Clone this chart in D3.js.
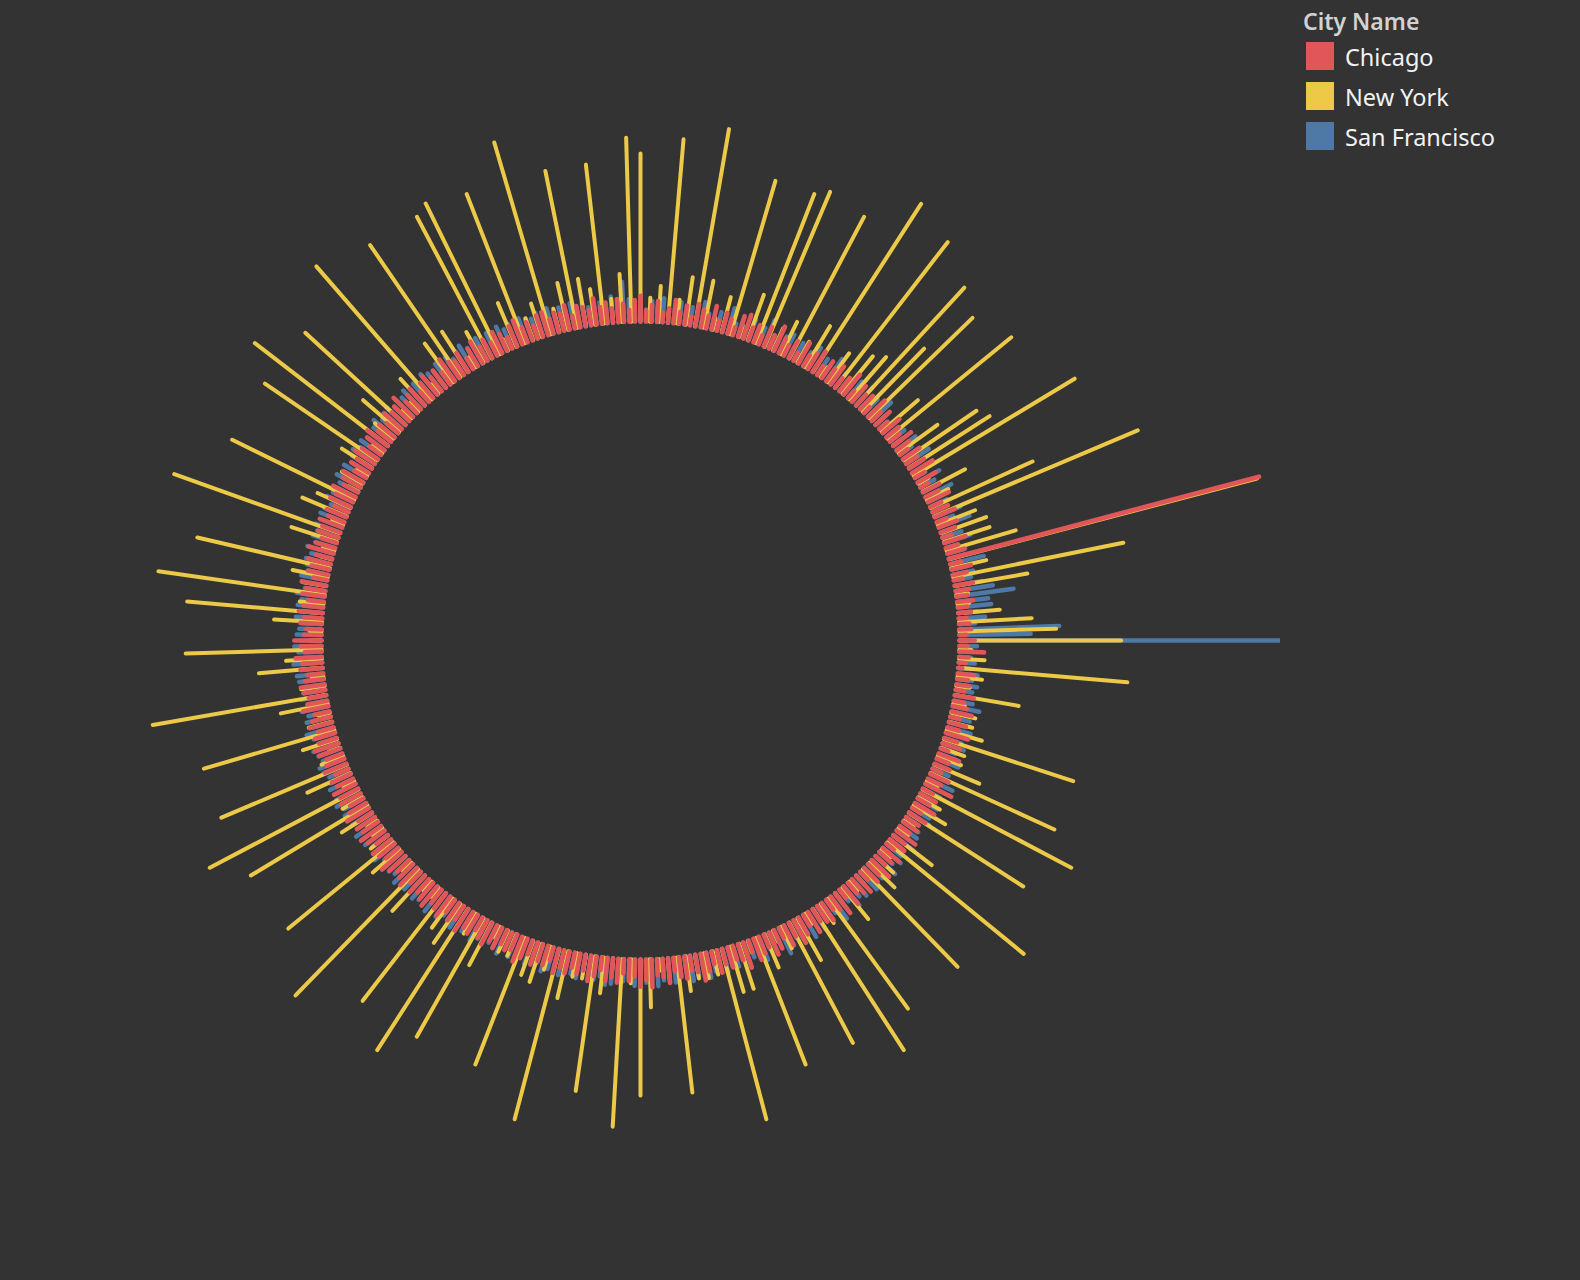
<!DOCTYPE html>
<html><head><meta charset="utf-8">
<script src="https://cdn.jsdelivr.net/npm/d3@7"></script>
<style>html,body{margin:0;background:#333333;} svg{display:block}</style>
</head><body>
<svg id="chart" width="1580" height="1280"></svg>
<script>
// Legend categories
const cities = ["Chicago", "New York", "San Francisco"];
const cityColors = ["#E15759", "#EDC948", "#4E79A7"];
const legendTitle = "City Name";

// New York: 220 evenly spaced readings around the circle
const newYork = [
  21, 3, 4.5, 23, 3, 6, 25, 6, 1.5, 4.5, 20, 1.5, 6, 20, 21, 3, 4.5, 20, 3, 6,
  25, 1.5, 4.5, 23, 6, 7, 20, 11, 18, 1.5, 6, 20, 1.5, 6, 11, 12, 23.5, 1.5, 6, 3,
  14, 27.6, 5, 6, 6, 9, 39.8, 4.5, 21.7, 9.2, 1.5, 1.5, 5.2, 9.1, 12.1, 20.2, 1.5, 3.2, 21.2, 3.1,
  1.7, 8.1, 1.5, 3.1, 3, 4.6, 17, 3.1, 3.1, 6.1, 17, 1.5, 21, 3.1, 4.6, 17, 1.5, 1.5, 6.1, 22,
  1.5, 3, 4.4, 17, 1.5, 1.5, 5.1, 1.5, 17, 2.9, 21, 1.5, 6, 17, 3, 1.5, 4.5, 17, 1.5, 5.9,
  5.9, 22, 3, 3.2, 3, 4.4, 17, 3, 1.5, 6, 17, 3, 21, 1.5, 4.5, 17, 3, 3, 6, 22,
  3, 5, 4.5, 17, 2.9, 2.9, 1.5, 6, 17, 2.9, 21, 5.9, 4.5, 17, 1.5, 1.5, 6, 22, 1.5, 1.5,
  4.4, 17, 2.7, 1.5, 1.5, 4.5, 17, 2.9, 21, 1.5, 5.9, 17, 2.9, 1.5, 4.5, 17, 3, 1.5, 6, 22,
  3, 1.5, 8, 4.5, 17, 1.5, 1.5, 6, 17, 3, 21, 3, 4.5, 17, 1.5, 1.5, 6, 22, 1.5, 6,
  4.5, 17, 1.5, 3, 1.5, 4.5, 17, 1.5, 21, 3, 6, 17, 1.5, 1.5, 4.5, 22, 1.5, 1.5, 6, 20,
  6, 1.5, 4.4, 20, 21, 1.5, 5.9, 20, 2.9, 4.4, 25, 3, 6, 20, 6, 4.5, 20, 3, 6, 23
];

// Chicago: 364 daily readings
const chicago = [
  3.2, 1.4, 2.1, 2.6, 1.2, 1.8, 2.9, 1.5, 2.4, 1.1, 2.8, 2.2, 1.6, 3.0,
  1.3, 2.5, 1.9, 1.0, 2.7, 3.1, 1.7, 2.3, 1.2, 2.6, 1.8, 3.3, 2.0, 1.4,
  2.4, 1.1, 2.9, 1.6, 2.2, 3.0, 1.3, 2.5, 1.9, 2.8, 1.5, 2.1, 3.2, 1.2,
  2.6, 1.8, 2.3, 1.0, 2.9, 1.6, 2.4, 1.3, 2.7, 2.0, 1.5, 2.8, 1.9, 1.2,
  2.5, 1.7, 2.2, 3.0, 1.4, 2.6, 1.1, 2.3, 1.8, 2.9, 1.5, 2.1, 2.7, 1.3,
  2.4, 1.9, 1.2, 2.8, 1.6, 2.2, 40.1, 1.4, 2.5, 1.8, 1.1, 2.3, 1.7, 1.4,
  2.0, 1.2, 1.6, 1.0, 1.3, 1.5, 0.9, 1.9, 1.0, 3.1, 1.2, 0.9, 0.5, 2.1,
  1.4, 1.6, 1.1, 2.4, 1.3, 1.8, 2.6, 1.2, 2.2, 1.5, 2.9, 1.7, 2.3, 1.0,
  2.7, 1.6, 2.0, 1.2, 2.5, 1.8, 3.6, 1.4, 2.2, 1.7, 2.8, 1.3, 2.4, 1.9,
  2.1, 1.5, 2.9, 1.8, 2.3, 1.2, 2.6, 2.0, 1.6, 3.0, 1.9, 2.4, 1.4, 2.7,
  2.2, 1.7, 2.8, 1.3, 3.1, 2.0, 1.5, 2.6, 2.3, 1.8, 2.9, 1.6, 2.4, 3.2,
  1.9, 2.7, 1.4, 2.5, 3.0, 1.7, 2.2, 2.8, 1.5, 3.3, 2.1, 1.8, 2.6, 2.0,
  2.9, 1.6, 2.4, 3.4, 2.2, 1.9, 2.8, 2.5, 1.7, 3.1, 2.3, 2.0, 3.5, 2.6,
  3.4, 2.1, 2.7, 1.8, 3.0, 2.4, 2.9, 1.6, 2.5, 3.2, 2.0, 2.6, 1.9, 2.8,
  2.3, 3.1, 1.7, 2.5, 2.2, 2.9, 1.8, 2.6, 3.3, 2.1, 2.4, 1.9, 2.8, 2.2,
  3.0, 2.5, 1.8, 2.7, 2.3, 3.2, 2.0, 2.6, 1.9, 2.9, 2.4, 2.1, 3.1, 2.6,
  2.2, 2.8, 1.9, 3.0, 2.4, 2.1, 2.7, 3.3, 2.0, 2.5, 2.9, 1.8, 2.6, 3.1,
  2.3, 2.7, 2.0, 3.2, 2.4, 1.9, 2.8, 2.5, 3.0, 2.2, 2.6, 1.8, 2.9, 2.4,
  2.1, 2.8, 3.1, 2.3, 2.6, 2.0, 2.9, 2.4, 1.9, 3.2, 2.5, 2.2, 2.7, 3.0,
  2.4, 2.0, 2.8, 2.5, 3.3, 2.1, 2.6, 3.4, 2.2, 1.9, 2.7, 2.3, 3.0, 2.5,
  2.0, 2.8, 2.4, 3.1, 1.8, 2.6, 2.3, 2.9, 2.1, 3.2, 2.5, 2.0, 2.7, 2.4,
  3.0, 2.2, 2.6, 1.9, 2.8, 2.4, 3.1, 2.0, 2.5, 2.9, 1.7, 2.6, 2.2, 3.0,
  2.4, 1.8, 2.7, 3.2, 2.1, 2.5, 1.9, 2.9, 2.3, 2.6, 3.4, 2.0, 2.4, 2.8,
  1.7, 2.5, 3.0, 2.2, 2.7, 1.9, 3.3, 2.4, 2.1, 2.8, 1.6, 2.5, 3.1, 2.0,
  2.6, 1.8, 2.9, 2.3, 1.5, 2.7, 3.2, 2.0, 2.4, 1.7, 2.8, 3.0, 1.9, 2.5,
  2.2, 3.1, 1.6, 2.7, 2.4, 1.9, 3.3, 2.1, 2.6, 1.8, 2.9, 2.3, 1.5, 2.7
];

// San Francisco: 364 daily readings
const sanFrancisco = [
  2.2, 1.5, 2.6, 1.8, 3.0, 1.4, 2.0, 2.7, 1.6, 2.3, 1.5, 3.2, 1.9, 1.4,
  2.4, 1.7, 3.3, 1.5, 2.1, 1.6, 2.8, 1.4, 2.2, 3.5, 1.8, 1.5, 2.3, 2.9,
  1.6, 2.5, 1.3, 2.0, 3.1, 1.5, 2.4, 1.9, 3.4, 1.4, 2.2, 1.8, 1.4, 2.7,
  2.0, 3.0, 1.5, 2.4, 1.7, 3.3, 2.1, 1.4, 2.7, 1.9, 2.3, 1.3, 2.9, 1.8,
  2.5, 3.4, 1.6, 2.2, 1.5, 3.1, 2.0, 2.4, 3.6, 1.7, 2.3, 1.5, 3.5, 2.2,
  4.1, 1.9, 2.5, 3.4, 1.6, 2.3, 2.1, 4.3, 1.8, 2.6, 2.2, 3.5, 4.7, 7.2,
  3.9, 4.2, 2.4, 3.3, 2.0, 12.5, 8.9, 100, 2.2, 1.8, 1.5, 2.0, 1.6, 2.5,
  1.9, 2.6, 2.1, 1.7, 2.4, 3.4, 1.8, 2.5, 2.2, 3.0, 1.6, 2.3, 2.8, 2.0,
  2.4, 2.9, 1.7, 2.2, 2.6, 3.4, 1.9, 2.4, 1.6, 2.8, 2.1, 2.5, 3.0, 1.8,
  2.3, 2.6, 2.0, 3.2, 1.7, 2.4, 2.9, 2.2, 3.3, 1.9, 2.5, 2.1, 3.0, 1.6,
  2.7, 2.2, 3.1, 1.8, 2.5, 3.4, 2.0, 2.6, 2.3, 3.0, 1.7, 3.2, 2.4, 2.6,
  2.1, 2.8, 3.5, 2.2, 2.6, 1.9, 3.1, 2.5, 2.2, 3.3, 1.8, 2.7, 2.4, 3.0,
  2.0, 2.6, 3.2, 2.3, 2.8, 3.2, 2.1, 2.5, 3.1, 2.2, 2.7, 3.4, 2.4, 2.9,
  2.6, 3.3, 2.3, 2.8, 2.5, 3.2, 3.4, 2.4, 2.9, 2.6, 2.2, 3.1, 2.7, 2.3,
  3.2, 2.5, 2.8, 3.3, 2.4, 2.7, 3.1, 2.3, 2.6, 3.0, 2.2, 3.2, 2.6, 2.4,
  3.0, 2.6, 3.3, 2.3, 2.8, 2.5, 3.2, 2.7, 2.4, 3.1, 2.6, 3.4, 2.5, 2.8,
  3.2, 2.4, 3.0, 2.6, 3.3, 2.5, 2.8, 3.1, 2.3, 3.2, 2.7, 2.4, 3.0, 2.9,
  3.3, 2.6, 3.0, 2.4, 3.1, 2.7, 3.4, 3.1, 2.5, 3.2, 2.8, 2.6, 3.1, 3.3,
  2.6, 2.9, 3.3, 2.5, 2.8, 3.5, 2.6, 3.1, 2.7, 3.4, 2.5, 3.2, 2.8, 2.6,
  3.1, 3.3, 2.7, 3.6, 2.4, 2.9, 3.4, 2.6, 3.1, 2.8, 2.5, 3.3, 2.7, 3.2,
  2.8, 3.5, 2.6, 3.1, 3.3, 2.5, 2.9, 3.2, 2.7, 3.4, 2.6, 3.1, 2.8, 3.3,
  2.6, 3.2, 3.0, 2.4, 3.3, 2.8, 3.1, 2.6, 3.4, 2.7, 3.2, 2.5, 2.9, 3.3,
  2.7, 3.1, 2.5, 3.2, 2.8, 3.4, 2.6, 3.0, 3.3, 2.4, 3.1, 2.7, 3.2, 2.6,
  3.0, 2.5, 3.3, 2.8, 2.6, 3.2, 2.7, 3.1, 2.4, 3.0, 3.4, 2.6, 2.8, 3.2,
  2.5, 3.1, 2.7, 3.3, 2.6, 3.0, 2.3, 3.2, 2.8, 2.6, 3.1, 2.4, 3.3, 2.7,
  3.0, 2.5, 3.2, 2.6, 2.9, 2.3, 3.1, 2.7, 2.4, 3.3, 2.6, 5.0, 2.8, 2.5
];

const W = 1580, H = 1280;
const svg = d3.select("#chart");
svg.append("rect").attr("width", W).attr("height", H).attr("fill", "#333333");

const cx = 640.5, cy = 640.5;
const radius = d3.scaleLinear().domain([0, 40]).range([319, 639]);
const angleNY = d3.scaleLinear().domain([0, newYork.length]).range([0, 2 * Math.PI]);
const angleDaily = d3.scaleLinear().domain([0, chicago.length]).range([0, 2 * Math.PI]);
const radial = d3.lineRadial();

svg.append("defs").append("clipPath").attr("id", "pane")
  .append("rect").attr("x", 0).attr("y", 0).attr("width", 1280).attr("height", 1280);

const plot = svg.append("g").attr("clip-path", "url(#pane)")
  .append("g").attr("transform", `translate(${cx},${cy})`);

function drawSeries(values, angle, color, width) {
  plot.append("g").selectAll("path").data(values).join("path")
    .attr("d", (v, i) => radial([[angle(i), radius(0)], [angle(i), radius(v)]]))
    .attr("fill", "none")
    .attr("stroke", color)
    .attr("stroke-width", width)
    .attr("stroke-linecap", "round");
}

drawSeries(sanFrancisco, angleDaily, cityColors[2], 4.5);
drawSeries(newYork, angleNY, cityColors[1], 4);
drawSeries(chicago, angleDaily, cityColors[0], 4.6);

// Legend
const legend = svg.append("g").attr("font-family", "'Noto Sans', 'Open Sans', sans-serif");
legend.append("text").attr("x", 1303).attr("y", 30)
  .attr("font-size", 23).attr("font-weight", 600).attr("fill", "#d2d2d2")
  .text(legendTitle);
const items = legend.selectAll("g.item").data(cities).join("g").attr("class", "item")
  .attr("transform", (d, i) => `translate(0,${i * 40})`);
items.append("rect").attr("x", 1306).attr("y", 42).attr("width", 28).attr("height", 28)
  .attr("fill", (d, i) => cityColors[i]);
items.append("text").attr("x", 1345).attr("y", 66)
  .attr("font-size", 23.5).attr("fill", "#f2f2f2").text(d => d);
</script>
</body></html>
